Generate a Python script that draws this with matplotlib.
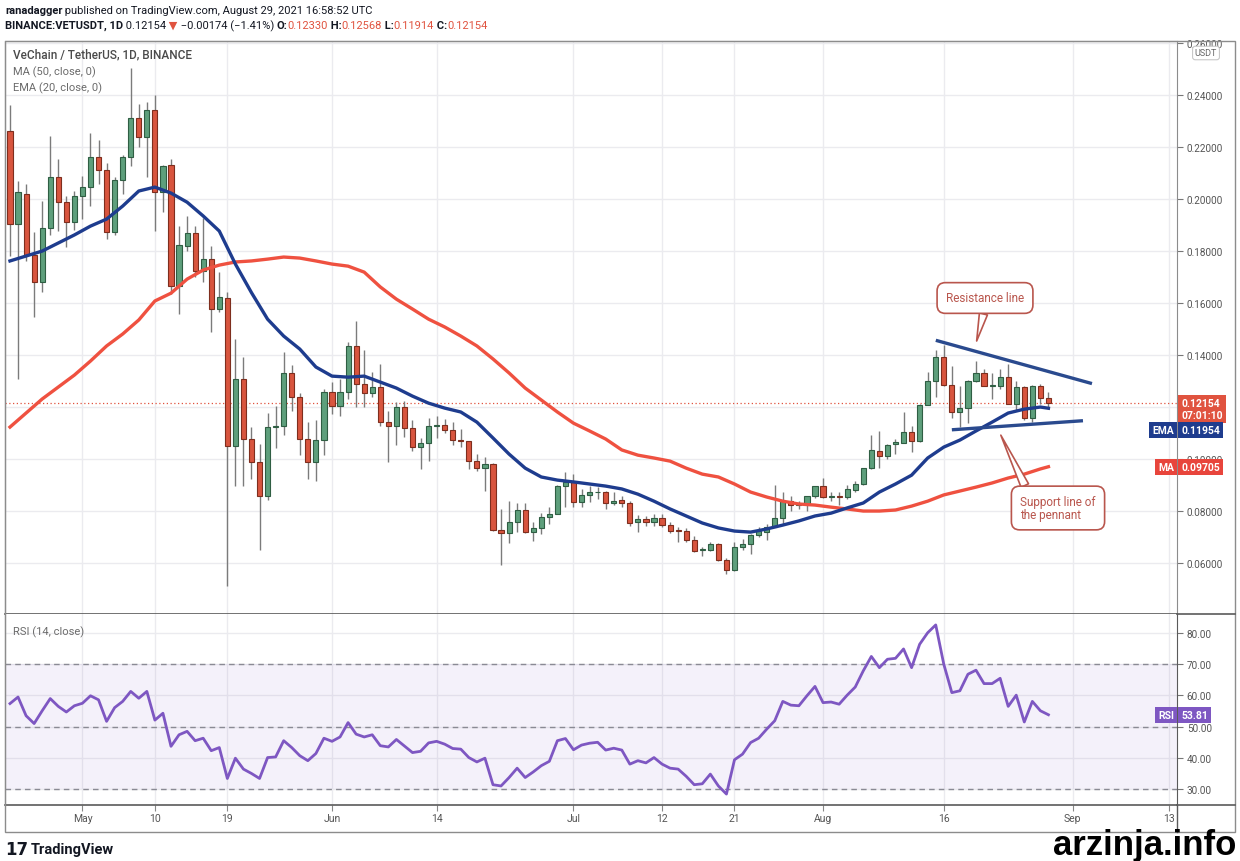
import matplotlib
matplotlib.use('Agg')
import matplotlib.pyplot as plt
import matplotlib.dates as mdates
from matplotlib.lines import Line2D
from matplotlib.patches import Rectangle
from matplotlib.transforms import Bbox
import numpy as np
import pandas as pd

plt.rcParams['font.family'] = ['Roboto', 'DejaVu Sans']

#dimensioni dell'immagine in pixel
W, H = 1240, 862

# --> dati: candele giornaliere VET/USDT <--
giorni = pd.date_range('2021-04-22', '2021-08-29', freq='D')
aperture = [.2263, .1904, .2019, .1785, .1682, .1887, .2083, .1987, .1913, .2013,
            .2045, .2160, .2112, .1874, .2073, .2160, .2310, .2237, .2344, .2028,
            .2131, .1667, .1820, .1869, .1724, .1769, .1577, .1619, .1051, .1308,
            .1079, .0990, .0859, .1122, .1128, .1331, .1237, .1079, .0987, .1073,
            .1256, .1205, .1256, .1436, .1288, .1253, .1276, .1144, .1128, .1199,
            .1118, .1047, .1062, .1126, .1132, .1113, .1073, .1069, .0991, .0964,
            .0981, .0728, .0714, .0759, .0805, .0718, .0736, .0776, .0790, .0897,
            .0913, .0836, .0863, .0872, .0874, .0831, .0844, .0831, .0756, .0769,
            .0756, .0772, .0747, .0726, .0722, .0687, .0650, .0651, .0674, .0613,
            .0574, .0660, .0674, .0708, .0720, .0740, .0772, .0837, .0824, .0826,
            .0856, .0895, .0853, .0856, .0853, .0882, .0904, .0964, .1032, .1010,
            .1058, .1062, .1105, .1068, .1208, .1301, .1394, .1285, .1180, .1195,
            .1301, .1330, .1282, .1282, .1314, .1212, .1276, .1156, .1280, .1233]
massimi = [.2362, .2071, .2058, .1872, .1993, .2241, .2154, .2013, .2032, .2090,
           .2256, .2227, .2140, .2083, .2170, .2503, .2365, .2374, .2400, .2131,
           .2154, .1897, .1933, .1897, .1926, .1820, .1718, .1641, .1462, .1391,
           .1122, .1058, .1176, .1205, .1410, .1362, .1254, .1141, .1150, .1270,
           .1297, .1308, .1449, .1532, .1420, .1336, .1365, .1186, .1218, .1224,
           .1150, .1080, .1157, .1167, .1154, .1144, .1116, .1070, .1019, .1006,
           .0985, .0808, .0840, .0831, .0831, .0759, .0793, .0814, .0900, .0949,
           .0942, .0885, .0897, .0891, .0878, .0872, .0859, .0840, .0785, .0782,
           .0788, .0788, .0756, .0740, .0734, .0705, .0660, .0682, .0676, .0618,
           .0680, .0692, .0710, .0737, .0750, .0900, .0872, .0859, .0840, .0859,
           .0897, .0927, .0872, .0872, .0900, .0916, .0967, .1092, .1109, .1058,
           .1079, .1180, .1128, .1210, .1336, .1420, .1440, .1359, .1280, .1305,
           .1378, .1347, .1330, .1347, .1365, .1301, .1280, .1285, .1290, .12568]
minimi = [.1782, .1308, .1760, .1545, .1641, .1860, .1878, .1814, .1880, .1923,
          .1974, .2058, .1846, .1860, .2019, .2128, .2200, .2083, .1878, .1949,
          .1635, .1558, .1800, .1700, .1680, .1487, .1564, .0513, .0897, .0897,
          .0923, .0651, .0844, .1041, .1092, .1186, .1015, .0923, .0915, .1015,
          .1173, .1166, .1230, .1199, .1200, .1237, .1126, .0987, .1054, .1086,
          .1032, .0962, .0994, .1080, .1100, .1054, .1047, .0962, .0955, .0878,
          .0725, .0592, .0677, .0718, .0715, .0686, .0712, .0750, .0788, .0814,
          .0814, .0814, .0836, .0846, .0808, .0822, .0814, .0744, .0720, .0744,
          .0744, .0740, .0716, .0680, .0680, .0644, .0628, .0647, .0609, .0558,
          .0570, .0651, .0635, .0700, .0687, .0738, .0750, .0801, .0808, .0800,
          .0850, .0850, .0840, .0822, .0847, .0872, .0900, .0962, .0967, .1000,
          .1019, .1060, .1028, .1064, .1206, .1237, .1280, .1156, .1122, .1138,
          .1295, .1280, .1231, .1270, .1210, .1188, .1152, .1141, .1212, .11914]
chiusure = [.1904, .2026, .1785, .1682, .1887, .2083, .1987, .1913, .2013, .2045,
            .2160, .2112, .1874, .2073, .2160, .2310, .2237, .2344, .2026, .2128,
            .1667, .1823, .1869, .1724, .1769, .1577, .1622, .1051, .1308, .1079,
            .0990, .0859, .1122, .1128, .1331, .1237, .1079, .0987, .1073, .1256,
            .1205, .1256, .1436, .1288, .1253, .1276, .1144, .1128, .1199, .1118,
            .1047, .1062, .1126, .1132, .1113, .1073, .1069, .0991, .0964, .0981,
            .0728, .0714, .0759, .0805, .0718, .0736, .0776, .0790, .0897, .0913,
            .0836, .0863, .0872, .0874, .0831, .0840, .0831, .0754, .0769, .0756,
            .0772, .0747, .0724, .0722, .0687, .0647, .0652, .0674, .0613, .0574,
            .0660, .0674, .0708, .0724, .0740, .0772, .0837, .0824, .0826, .0856,
            .0895, .0853, .0856, .0853, .0885, .0904, .0964, .1036, .1010, .1054,
            .1064, .1105, .1068, .1208, .1301, .1394, .1285, .1180, .1195, .1301,
            .1330, .1282, .1285, .1314, .1212, .1276, .1156, .1280, .1233, .12154]

#RSI (14) giorno per giorno
rsi = [57.4, 59.5, 53.5, 51.0, 55.1, 59.0, 56.5, 54.7, 56.7, 57.5,
       59.9, 58.6, 51.7, 56.1, 58.1, 61.3, 59.1, 61.3, 52.1, 54.3,
       43.7, 47.4, 48.5, 45.5, 46.3, 42.3, 43.3, 33.4, 39.9, 36.4,
       35.0, 33.4, 40.1, 40.3, 45.5, 43.3, 40.7, 39.1, 41.4, 46.3,
       45.3, 46.7, 51.3, 47.6, 46.7, 47.4, 43.9, 43.5, 45.9, 43.8,
       41.7, 42.1, 44.8, 45.3, 44.4, 43.0, 42.8, 40.1, 38.7, 39.9,
       31.4, 31.0, 33.7, 36.7, 33.7, 35.5, 37.5, 38.9, 45.5, 46.2,
       42.6, 44.1, 44.7, 45.0, 42.5, 43.1, 42.5, 38.0, 39.1, 38.4,
       40.1, 38.0, 36.7, 36.4, 34.1, 31.4, 31.7, 34.8, 31.0, 28.4,
       39.4, 41.2, 44.9, 46.3, 49.2, 51.9, 58.1, 56.9, 56.7, 59.9,
       62.9, 57.7, 57.9, 57.2, 60.1, 62.7, 67.9, 72.5, 68.9, 71.6,
       71.9, 74.9, 68.9, 76.4, 80.1, 82.6, 70.0, 60.9, 61.5, 66.8,
       68.1, 63.8, 63.8, 65.5, 56.5, 60.1, 51.5, 58.1, 55.1, 53.81]

#medie mobili lette ogni due giorni
medie_giorni = list(pd.date_range('2021-04-22', '2021-08-28', freq='2D')) + [pd.Timestamp('2021-08-29')]
ema20 = [.1762, .1781, .1800, .1831, .1862, .1896, .1923, .1973, .2031, .2046,
         .2023, .1988, .1935, .1877, .1750, .1640, .1538, .1473, .1423, .1354,
         .1319, .1315, .1319, .1296, .1273, .1242, .1215, .1196, .1181, .1142,
         .1081, .1019, .0965, .0931, .0919, .0912, .0904, .0896, .0885, .0865,
         .0838, .0808, .0781, .0754, .0735, .0723, .0719, .0731, .0746, .0762,
         .0781, .0792, .0812, .0831, .0873, .0904, .0938, .1004, .1046, .1073,
         .1108, .1142, .1177, .1192, .1200, .11954]
ma50 = [.1123, .1177, .1231, .1277, .1323, .1377, .1435, .1481, .1535, .1608,
        .1638, .1692, .1727, .1746, .1758, .1762, .1769, .1777, .1773, .1762,
        .1750, .1742, .1719, .1662, .1615, .1577, .1538, .1508, .1473, .1435,
        .1385, .1331, .1273, .1227, .1181, .1138, .1108, .1077, .1035, .1015,
        .1004, .0992, .0965, .0942, .0931, .0904, .0873, .0854, .0838, .0827,
        .0823, .0815, .0808, .0800, .0800, .0804, .0819, .0838, .0862, .0877,
        .0892, .0908, .0927, .0942, .0962, .09705]

#linee del pennant disegnate a mano
resistenza_date = ['2021-08-15 05:00', '2021-09-03 05:00']
resistenza_prezzi = [0.1455, 0.1292]
supporto_date = ['2021-08-17 05:00', '2021-09-02 02:00']
supporto_prezzi = [0.1113, 0.1147]

tick_date = ['2021-05-01', '2021-05-10', '2021-05-19', '2021-06-01', '2021-06-14', '2021-07-01',
             '2021-07-12', '2021-07-21', '2021-08-01', '2021-08-16', '2021-09-01', '2021-09-13']
tick_etichette = ['May', '10', '19', 'Jun', '14', 'Jul', '12', '21', 'Aug', '16', 'Sep', '13']
prezzo_tick = [0.06, 0.08, 0.10, 0.12, 0.14, 0.16, 0.18, 0.20, 0.22, 0.24, 0.26]
rsi_tick = [30, 40, 50, 60, 70, 80]

# --> colori <--
VERDE, VERDE_BORDO = '#5e9f7c', '#2f5e43'
ROSSO, ROSSO_BORDO = '#d8553e', '#7e2e1e'
STOPPINO = '#7b7b7b'
BLU = '#1e3c8e'
ROSSO_MA = '#ef5140'
VIOLA = '#7e57c2'
GRIGLIA = '#ebebef'
CORNICE = '#8c8c8c'
ROSSO_LABEL = '#e0533f'
CALLOUT = '#b9564d'


def fx(x):
    return x / W


def fy(y):
    return 1 - y / H


def linea(x0, y0, x1, y1, col=CORNICE, lw=1.0):
    fig.add_artist(Line2D([fx(x0), fx(x1)], [fy(y0), fy(y1)], transform=fig.transFigure,
                          color=col, lw=lw, zorder=1))


#scrive una riga di testo a pezzi con pesi e colori diversi
def riga(x, y, pezzi, size=8):
    r = fig.canvas.get_renderer()
    for testo, peso, colore in pezzi:
        t = fig.text(fx(x), fy(y), testo, fontsize=size, fontweight=peso, color=colore,
                     ha='left', va='center')
        x = t.get_window_extent(renderer=r).x1


def etichetta(x, y, testo, fondo, ha='left', size=7.5):
    fig.text(fx(x), fy(y), testo, ha=ha, va='center', color='white', fontsize=size,
             fontweight='bold', linespacing=1.15, zorder=10,
             bbox=dict(boxstyle='square,pad=0.3', fc=fondo, ec='none'))


fig = plt.figure(figsize=(W / 100, H / 100), dpi=100)
fig.patch.set_facecolor('white')

ax = fig.add_axes([fx(5), fy(615), 1172 / W, 573 / H])
ax2 = fig.add_axes([fx(5), fy(806), 1172 / W, 191 / H], sharex=ax)

x = mdates.date2num(giorni)
xt = mdates.date2num(pd.to_datetime(tick_date))
ax.set_xlim(x[0] - 0.62, x[0] + 144.97)
ax.set_ylim(0.0404, 0.2608)

# --> pannello prezzo <--
ax.set_xticks(xt)
ax.set_yticks(prezzo_tick)
#0.12000 e' coperto dall'etichetta del prezzo, quindi resta vuoto
ax.set_yticklabels(['' if abs(p - 0.12) < 1e-9 else f'{p:.5f}' for p in prezzo_tick])
ax.grid(color=GRIGLIA, lw=1, zorder=0)
ax.set_axisbelow(True)
ax.yaxis.tick_right()
ax.tick_params(axis='x', length=0, labelbottom=False)
ax.tick_params(axis='y', length=4, width=0.8, color='#777777', labelsize=7.2,
               labelcolor='#555555', pad=3)

#0.10000 si vede solo per meta' sopra l'etichetta MA
taglio = Bbox.from_extents(0, fy(461) * H, W, H)
for p, lab in zip(prezzo_tick, ax.yaxis.get_ticklabels()):
    if abs(p - 0.10) < 1e-9:
        lab.set_clip_box(taglio)
        lab.set_clip_on(True)

su = np.array(chiusure) >= np.array(aperture)
ax.vlines(x, minimi, massimi, color=STOPPINO, lw=1, zorder=3)
basso = np.minimum(aperture, chiusure)
corpo = np.maximum(np.abs(np.subtract(chiusure, aperture)), 0.0003)
ax.bar(x, corpo, bottom=basso, width=0.64, color=np.where(su, VERDE, ROSSO),
       edgecolor=np.where(su, VERDE_BORDO, ROSSO_BORDO), linewidth=0.8, zorder=4)

xm = mdates.date2num(pd.to_datetime(medie_giorni))
ax.plot(xm, ma50, color=ROSSO_MA, lw=2.4, zorder=5, solid_joinstyle='round')
ax.plot(xm, ema20, color=BLU, lw=2.4, zorder=6, solid_joinstyle='round')

ax.axhline(chiusure[-1], color=ROSSO_LABEL, lw=0.9, ls=(0, (1, 2)), zorder=2)

ax.plot(mdates.date2num(pd.to_datetime(resistenza_date)), resistenza_prezzi,
        color='#2a4a8e', lw=2.4, zorder=7)
ax.plot(mdates.date2num(pd.to_datetime(supporto_date)), supporto_prezzi,
        color='#2a4a8e', lw=2.4, zorder=7)

#callout stile tradingview
stile_box = dict(boxstyle='round,pad=0.75,rounding_size=0.7', fc='white', ec=CALLOUT, lw=1.2)
ax.annotate('Resistance line', xy=(mdates.date2num(pd.Timestamp('2021-08-20 02:00')), 0.1454),
            xytext=(985, H - 299), textcoords='figure pixels', ha='center', va='center',
            fontsize=8.5, color=CALLOUT, bbox=stile_box, zorder=9, annotation_clip=False,
            arrowprops=dict(arrowstyle='wedge,tail_width=0.7,shrink_factor=0.5', fc='white',
                            ec=CALLOUT, lw=1.2, relpos=(0.51, 0.0), shrinkA=0, shrinkB=0))
ax.annotate('Support line of\nthe pennant', xy=(mdates.date2num(pd.Timestamp('2021-08-23 02:00')), 0.1092),
            xytext=(1058, H - 509), textcoords='figure pixels', ha='center', va='center',
            multialignment='left', fontsize=8.5, color=CALLOUT, bbox=stile_box, zorder=9,
            annotation_clip=False, linespacing=1.0,
            arrowprops=dict(arrowstyle='wedge,tail_width=0.7,shrink_factor=0.5', fc='white',
                            ec=CALLOUT, lw=1.2, relpos=(0.12, 1.0), shrinkA=0, shrinkB=0))

for lato in ['top', 'left', 'right']:
    ax.spines[lato].set_color(CORNICE)
ax.spines['bottom'].set_color('#5a5a5a')
ax.spines['bottom'].set_linewidth(1.2)

# --> pannello RSI <--
ax2.set_ylim(24.9, 86.1)
ax2.set_yticks(rsi_tick)
ax2.set_yticklabels([f'{v:.2f}' for v in rsi_tick])
ax2.grid(color=GRIGLIA, lw=1, zorder=0)
ax2.set_axisbelow(True)
ax2.axhspan(30, 70, color=VIOLA, alpha=0.08, lw=0, zorder=1)
for livello in (30, 50, 70):
    ax2.axhline(livello, color='#8a8a94', lw=1, ls=(0, (4, 3)), zorder=2)
ax2.plot(x, rsi, color=VIOLA, lw=2, zorder=4)
ax2.yaxis.tick_right()
ax2.set_xticks(xt)
ax2.set_xticklabels(tick_etichette)
ax2.tick_params(axis='y', length=4, width=0.8, color='#777777', labelsize=7.2,
                labelcolor='#555555', pad=3)
ax2.tick_params(axis='x', length=4, width=0.8, color='#888888', labelsize=7.5,
                labelcolor='#555555', pad=2)
ax2.spines['top'].set_visible(False)
ax2.spines['left'].set_color(CORNICE)
ax2.spines['right'].set_color('#5a5a5a')
ax2.spines['bottom'].set_color('#5a5a5a')
ax2.spines['bottom'].set_linewidth(1.2)

# --> cornice esterna <--
fig.add_artist(Rectangle((fx(5), fy(833)), 1230 / W, 791 / H, transform=fig.transFigure,
                         fill=False, ec=CORNICE, lw=1, zorder=1))
linea(1177, 615, 1235, 615, '#5a5a5a', 1.2)
linea(1177, 806, 1235, 806, '#5a5a5a', 1.2)
linea(1177, 806, 1177, 833, '#5a5a5a', 1.0)

# --> testi <--
riga(5, 11, [('ranadagger', 'bold', '#131722'),
             (' published on TradingView.com, August 29, 2021 16:58:52 UTC', 'normal', '#131722')])
riga(5, 26, [('BINANCE:VETUSDT, 1D', 'bold', '#131722'), (' 0.12154', 'normal', '#131722'),
             (' ▼', 'normal', ROSSO_LABEL), (' \u22120.00174 (\u22121.41%) ', 'normal', '#131722'),
             ('O:', 'bold', '#131722'), ('0.12330', 'normal', ROSSO_LABEL),
             (' H:', 'bold', '#131722'), ('0.12568', 'normal', ROSSO_LABEL),
             (' L:', 'bold', '#131722'), ('0.11914', 'normal', ROSSO_LABEL),
             (' C:', 'bold', '#131722'), ('0.12154', 'normal', ROSSO_LABEL)])

fig.text(fx(13), fy(55), 'VeChain / TetherUS, 1D, BINANCE', fontsize=8.5, color='#4a4a4a',
         va='center', fontweight='medium')
fig.text(fx(13), fy(72), 'MA (50, close, 0)', fontsize=8, color='#6b6b6b', va='center')
fig.text(fx(13), fy(88), 'EMA (20, close, 0)', fontsize=8, color='#6b6b6b', va='center')
fig.text(fx(13), fy(632), 'RSI (14, close)', fontsize=8, color='#6b6b6b', va='center')

fig.text(fx(1206), fy(54), 'USDT', ha='center', va='center', fontsize=6.5, color='#666666',
         zorder=10, bbox=dict(boxstyle='round,pad=0.25,rounding_size=0.3', fc='white',
                              ec='#c8c8c8', lw=0.8))

etichetta(1181, 410, '0.12154\n07:01:10', ROSSO_LABEL)
etichetta(1181, 431, '0.11954', BLU)
etichetta(1174, 431, 'EMA', BLU, ha='right')
etichetta(1181, 468, '0.09705', '#e8453c')
etichetta(1174, 468, 'MA', '#e8453c', ha='right')
etichetta(1181, 716, '53.81', VIOLA)
etichetta(1174, 716, 'RSI', VIOLA, ha='right')

fig.text(fx(5), fy(850), '17', fontsize=12, fontweight='heavy', color='#131722', va='center',
         family='DejaVu Sans')
fig.text(fx(31), fy(850), 'TradingView', fontsize=10.5, fontweight='bold', color='#131722',
         va='center')
fig.text(fx(1236), fy(846), 'arzinja.info', ha='right', va='center', fontsize=25,
         fontweight='bold', color='black', family='Liberation Sans', zorder=11)

fig.savefig('out.png', dpi=100, facecolor='white')
